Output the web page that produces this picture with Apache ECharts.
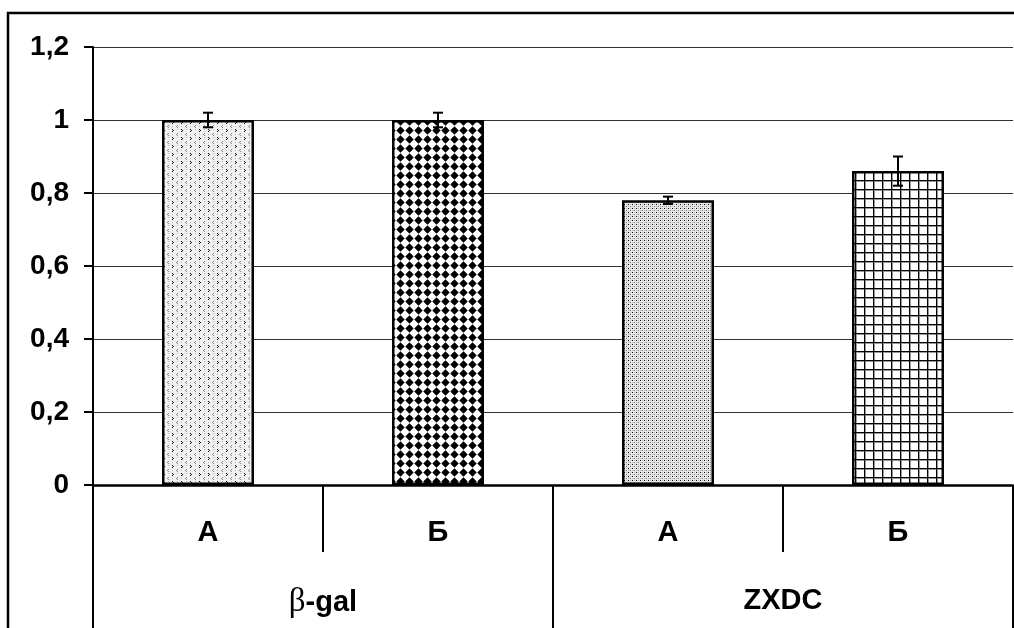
<!DOCTYPE html>
<html>
<head>
<meta charset="utf-8">
<script src="https://cdn.jsdelivr.net/npm/echarts@6/dist/echarts.min.js"></script>
<style>
html,body{margin:0;padding:0;background:#fff;}
#chart{width:1014px;height:628px;}
</style>
</head>
<body>
<div id="chart"></div>
<script>
// ---- data ----
const categories = ['А', 'Б', 'А', 'Б'];
const groups = ['β-gal', 'ZXDC'];
const values = [1.0, 1.0, 0.78, 0.86];
const errors = [0.02, 0.02, 0.01, 0.04];
const yTicks = [0, 0.2, 0.4, 0.6, 0.8, 1.0, 1.2];

// ---- patterns ----
function tile(w, h, draw) {
  const c = document.createElement('canvas');
  c.width = w; c.height = h;
  const ctx = c.getContext('2d');
  ctx.fillStyle = '#fff';
  ctx.fillRect(0, 0, w, h);
  draw(ctx);
  return c;
}
function px(ctx, col, pts) {
  ctx.fillStyle = col;
  pts.forEach(p => ctx.fillRect(p[0], p[1], 1, 1));
}
const pat1 = tile(9, 8, ctx => {
  ctx.fillStyle = '#f1f1f1'; ctx.fillRect(0, 0, 9, 8);
  px(ctx, '#111', [[1, 1], [2, 2], [1, 3]]);
  px(ctx, '#888', [[6, 5], [5, 6], [6, 7]]);
  px(ctx, '#bbb', [[6, 1], [1, 6]]);
});
const pat2 = tile(9, 9, ctx => {
  ctx.fillStyle = '#000';
  ctx.beginPath();
  ctx.moveTo(4.5, 0.3); ctx.lineTo(8.7, 4.5); ctx.lineTo(4.5, 8.7); ctx.lineTo(0.3, 4.5);
  ctx.closePath(); ctx.fill();
});
const pat3 = tile(4, 4, ctx => {
  ctx.fillStyle = '#e6e6e6'; ctx.fillRect(0, 0, 4, 4);
  px(ctx, '#111', [[0, 0]]);
  px(ctx, '#777', [[2, 2]]);
  px(ctx, '#bbb', [[2, 0], [0, 2]]);
});
const pat4 = tile(9, 9, ctx => {
  ctx.fillStyle = '#000';
  ctx.fillRect(0, 0, 1, 9);
  ctx.fillRect(0, 0, 9, 1);
  ctx.fillStyle = '#999';
  ctx.fillRect(1, 1, 1, 8);
  ctx.fillRect(1, 1, 8, 1);
});
const patterns = [pat1, pat2, pat3, pat4];

const FONT = "'Liberation Sans', Arial, sans-serif";

const chart = echarts.init(document.getElementById('chart'));
chart.setOption({
  animation: false,
  backgroundColor: '#fff',
  graphic: [{
    type: 'rect',
    shape: { x: 8, y: 13, width: 1200, height: 800 },
    style: { fill: 'none', stroke: '#000', lineWidth: 2.5 },
    z: 100
  }],
  grid: { left: 93, right: 1, top: 47, bottom: 143 },
  xAxis: [{
    type: 'category',
    data: categories,
    axisLine: { lineStyle: { color: '#000', width: 2.5 } },
    axisTick: { show: true, interval: 0, length: 67, lineStyle: { color: '#000', width: 2 } },
    axisLabel: { interval: 0, margin: 33, color: '#000', fontFamily: FONT, fontWeight: 'bold', fontSize: 29 }
  }, {
    type: 'category',
    position: 'bottom',
    data: groups,
    axisLine: { show: false },
    axisTick: { show: true, interval: 0, length: 143, lineStyle: { color: '#000', width: 2 } },
    axisLabel: {
      interval: 0, margin: 101, color: '#000', fontFamily: FONT, fontWeight: 'bold', fontSize: 29,
      formatter: v => v === 'β-gal' ? '{b|β}{n|-gal}' : v,
      rich: {
        b: { fontFamily: "'Liberation Serif', 'DejaVu Serif', serif", fontWeight: 'normal', fontSize: 33, color: '#000' },
        n: { fontFamily: FONT, fontWeight: 'bold', fontSize: 29, color: '#000' }
      }
    }
  }],
  yAxis: {
    type: 'value',
    min: yTicks[0], max: yTicks[yTicks.length - 1], interval: 0.2,
    axisLine: { show: true, lineStyle: { color: '#000', width: 2 } },
    axisTick: { show: true, length: 9, lineStyle: { color: '#000', width: 2 } },
    axisLabel: {
      margin: 24, color: '#000', fontFamily: FONT, fontWeight: 'bold', fontSize: 28,
      padding: [4, 0, 0, 0],
      formatter: v => String(+v.toFixed(1)).replace('.', ',')
    },
    splitLine: { show: true, lineStyle: { color: '#333', width: 1 } }
  },
  series: [{
    type: 'bar',
    xAxisIndex: 0,
    barWidth: '40%',
    data: values.map((v, i) => ({
      value: v,
      itemStyle: { color: { image: patterns[i], repeat: 'repeat' }, borderColor: '#000', borderWidth: 2.5 }
    })),
    z: 2
  }, {
    type: 'custom',
    xAxisIndex: 0,
    data: values.map((v, i) => [i, v, errors[i]]),
    encode: { x: 0, y: 1 },
    z: 5,
    renderItem: (params, api) => {
      const i = api.value(0), v = api.value(1), e = api.value(2);
      const top = api.coord([i, v + e]);
      const bot = api.coord([i, v - e]);
      const hw = 5;
      const st = { stroke: '#000', lineWidth: 2 };
      return {
        type: 'group',
        children: [
          { type: 'line', shape: { x1: top[0], y1: top[1], x2: bot[0], y2: bot[1] }, style: st },
          { type: 'line', shape: { x1: top[0] - hw, y1: top[1], x2: top[0] + hw, y2: top[1] }, style: st },
          { type: 'line', shape: { x1: bot[0] - hw, y1: bot[1], x2: bot[0] + hw, y2: bot[1] }, style: st }
        ]
      };
    }
  }]
});
</script>
</body>
</html>
